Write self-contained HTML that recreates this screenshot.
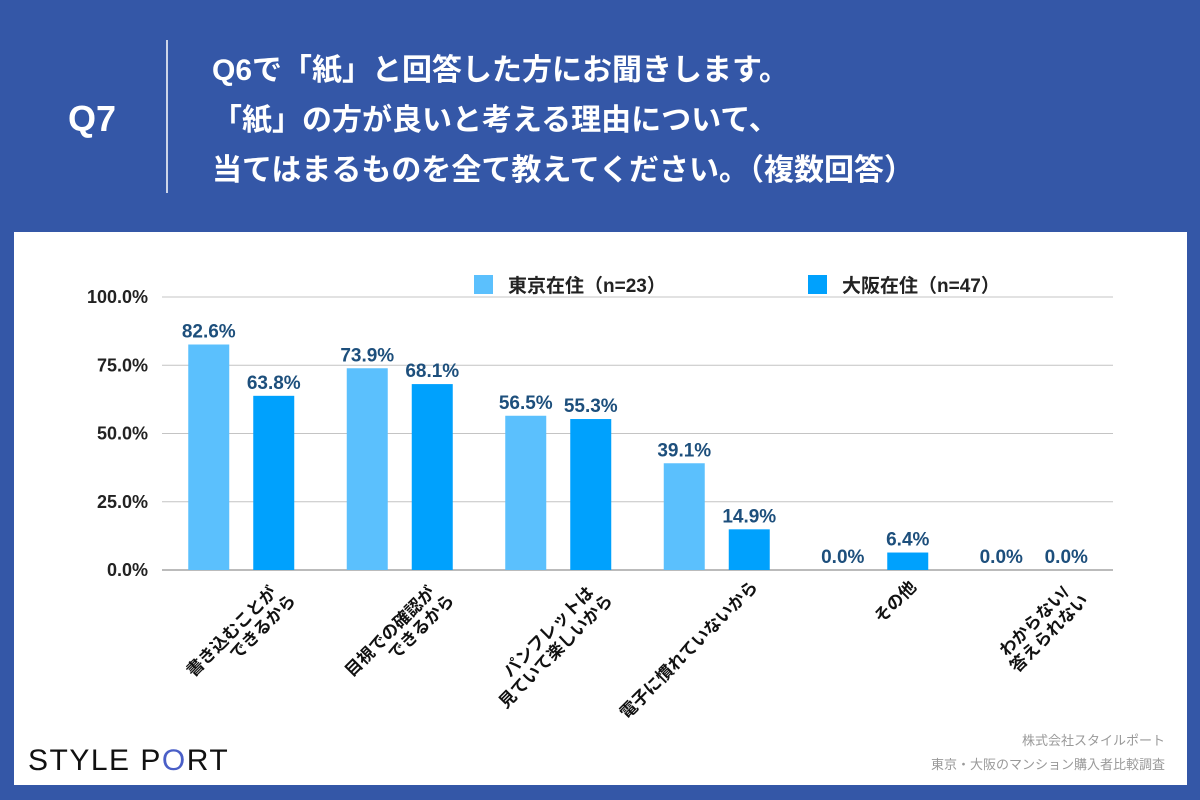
<!DOCTYPE html>
<html><head><meta charset="utf-8"><style>
body{margin:0;width:1200px;height:800px;background:#3457a7;font-family:"Liberation Sans","Noto Sans CJK JP",sans-serif;overflow:hidden}
</style></head><body>
<svg width="1200" height="800" viewBox="0 0 1200 800" style="position:absolute;left:0;top:0">
<text x="92" y="131" fill="#fff" font-size="36" font-weight="bold" text-anchor="middle">Q7</text>
<line x1="167" y1="40" x2="167" y2="193" stroke="#fff" stroke-width="1.5"/>
<g fill="#fff" font-size="30" font-weight="bold" font-family="Liberation Sans,Noto Sans CJK JP,sans-serif">
<text x="212" y="80">Q6で「紙」と回答した方にお聞きします。</text>
<text x="212" y="130">「紙」の方が良いと考える理由について、</text>
<text x="212" y="180">当てはまるものを全て教えてください。（複数回答）</text>
</g>
<rect x="14" y="232" width="1173" height="553" fill="#fff"/>
<g id="grid"></g><g id="bars"></g><g id="labels"></g>
<g>
<rect x="474" y="275" width="19" height="19" fill="#5bc0fd"/>
<text x="508" y="292" font-size="19" font-weight="bold" fill="#222">東京在住（n=23）</text>
<rect x="808" y="275" width="19" height="19" fill="#00a1fd"/>
<text x="842" y="292" font-size="19" font-weight="bold" fill="#222">大阪在住（n=47）</text>
</g>
<text x="28" y="770" font-size="30" fill="#111" letter-spacing="1.5">STYLE P<tspan fill="#4a5fc7">O</tspan>RT</text>
<text x="1165" y="745" font-size="13" fill="#999" text-anchor="end">株式会社スタイルポート</text>
<text x="1165" y="769" font-size="13" fill="#999" text-anchor="end">東京・大阪のマンション購入者比較調査</text>
</svg>
<script>
const categories=[["書き込むことが","できるから"],["目視での確認が","できるから"],["パンフレットは","見ていて楽しいから"],["電子に慣れていないから"],["その他"],["わからない/","答えられない"]];
const tokyo=[82.6,73.9,56.5,39.1,0.0,0.0];
const osaka=[63.8,68.1,55.3,14.9,6.4,0.0];
const ticks=[0,25,50,75,100];
const NS="http://www.w3.org/2000/svg";
const X0=162,X1=1113,Y0=570,Y100=297;
const y=v=>Y0-(Y0-Y100)*v/100;
const gw=(X1-X0)/categories.length;
const cx=i=>X0+gw*(i+0.5);
function mk(t,a,p){const e=document.createElementNS(NS,t);for(const k in a)e.setAttribute(k,a[k]);p.appendChild(e);return e;}
const grid=document.getElementById('grid'),bars=document.getElementById('bars'),labels=document.getElementById('labels');
ticks.forEach(t=>{
const l=mk('line',{x1:X0,x2:X1,y1:y(t),y2:y(t),stroke:t===0?'#777':'#c4c4c4','stroke-width':1},grid);


const tx=mk('text',{x:148,y:y(t)+6,'font-size':18,'font-weight':'bold','text-anchor':'end',fill:'#222'},grid);
tx.textContent=t.toFixed(1)+'%';


});
const bw=41;
[[tokyo,'#5bc0fd',-32.5,'tokyo'],[osaka,'#00a1fd',32.5,'osaka']].forEach(([arr,col,off,nm])=>{
arr.forEach((v,i)=>{
const bx=cx(i)+off-bw/2;
const r=mk('rect',{x:bx,y:y(v),width:bw,height:Y0-y(v),fill:col},bars);


const t=mk('text',{x:cx(i)+off,y:y(v)-7,'font-size':19,'font-weight':'bold','text-anchor':'middle',fill:'#1d4f7c'},bars);
t.textContent=v.toFixed(1)+'%';


});
});
categories.forEach((c,i)=>{
const ax=cx(i)+42,ay=588;
const t=mk('text',{transform:`translate(${ax},${ay}) rotate(-45)`,'font-size':17,'font-weight':'bold','text-anchor':'end',fill:'#111'},labels);


c.forEach((line,j)=>{const s=mk('tspan',{x:j===0&&c.length>1?-8:0,dy:j===0?0:19},t);s.textContent=line;});
});
</script>
</body></html>
